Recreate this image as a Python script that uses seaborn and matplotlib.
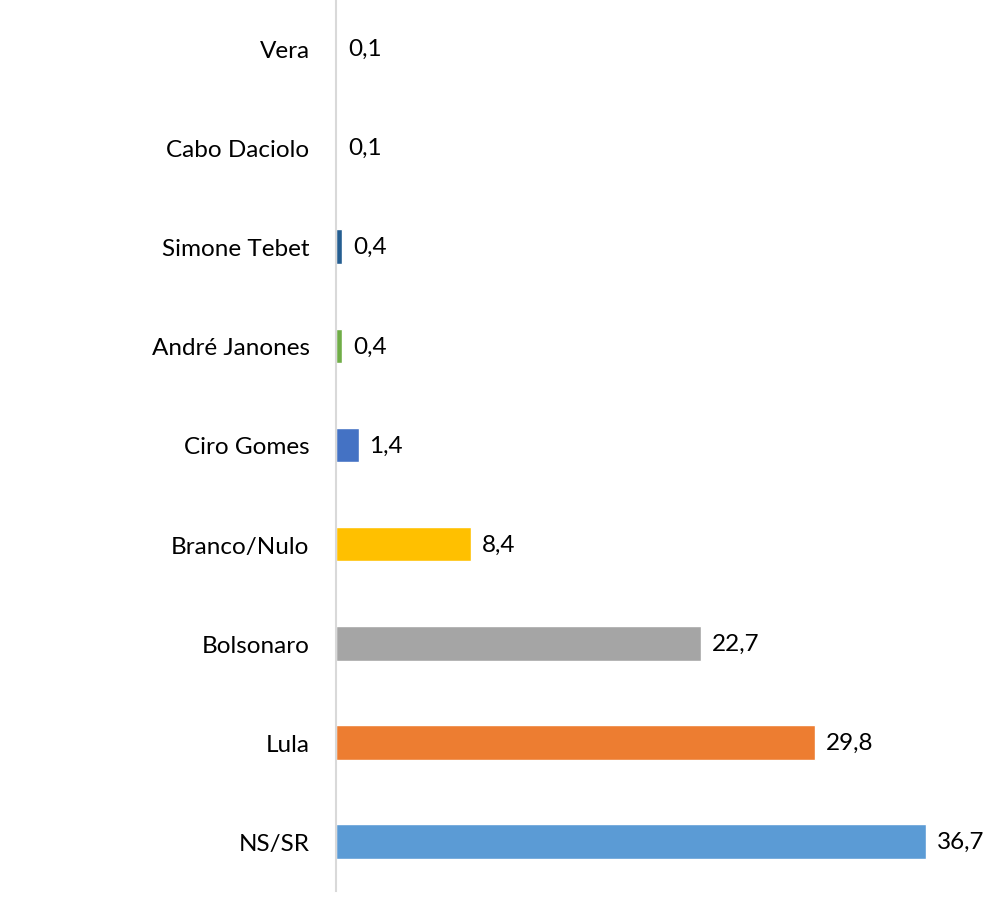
import matplotlib
matplotlib.use('Agg')
import matplotlib.pyplot as plt
import seaborn as sns
import pandas as pd

# data (top to bottom)
candidates = ["Vera", "Cabo Daciolo", "Simone Tebet", "André Janones", "Ciro Gomes",
              "Branco/Nulo", "Bolsonaro", "Lula", "NS/SR"]
values = [0.1, 0.1, 0.4, 0.4, 1.4, 8.4, 22.7, 29.8, 36.7]
colors = ["#FFFFFF", "#FFFFFF", "#255E91", "#70AD47", "#4472C4",
          "#FFC000", "#A5A5A5", "#ED7D31", "#5B9BD5"]

df = pd.DataFrame({"candidate": candidates, "value": values})

sns.set_style("white")
plt.rcParams['font.family'] = ['Lato', 'DejaVu Sans']

fig = plt.figure(figsize=(10, 9.12), dpi=100)
ax = fig.add_axes([0.336, 0.022, 0.627, 0.978])

sns.barplot(data=df, y="candidate", x="value", hue="candidate",
            palette=dict(zip(candidates, colors)), orient="h",
            width=0.35, legend=False, ax=ax, saturation=1)

ax.set_xlim(0, 39)
ax.set_ylim(len(candidates) - 0.5, -0.5)
ax.set_xlabel("")
ax.set_ylabel("")
ax.set_xticks([])
ax.tick_params(axis='y', length=0, pad=19, labelsize=17.5, labelcolor="#000000")

for s in ["top", "right", "bottom"]:
    ax.spines[s].set_visible(False)
ax.spines["left"].set_color("#D9D9D9")
ax.spines["left"].set_linewidth(1.5)
ax.spines["left"].set_zorder(5)

for i, v in enumerate(values):
    ax.text(v + 0.65, i, f"{v:.1f}".replace(".", ","), va="center", ha="left",
            fontsize=17.5, color="#000000", clip_on=False)

fig.savefig("out.png", dpi=100)
